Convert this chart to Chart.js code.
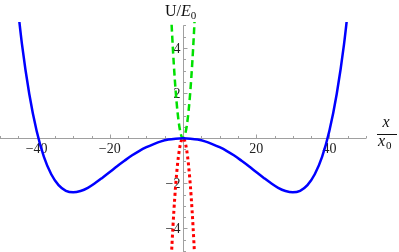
<!DOCTYPE html>
<html>
<head>
<meta charset="utf-8">
<script src="https://cdn.jsdelivr.net/npm/chart.js@4"></script>
<style>
  html, body { margin: 0; padding: 0; background: #fff; }
  #wrap { width: 399px; height: 252px; position: relative; }
</style>
</head>
<body>
<div id="wrap"><canvas id="myChart"></canvas></div>
<script>
// values
const blueX = [-46,-44,-42,-40,-38,-36,-34,-32,-30,-28,-26,-24,-22,-20,-18,-16,-14,-12,-10,-8,-6,-4,-2,0,
               2,4,6,8,10,12,14,16,18,20,22,24,26,28,30,32,34,36,38,40,42,44,46];
const blueU = [7.09,4.17,1.96,0.33,-0.83,-1.60,-2.08,-2.33,-2.40,-2.34,-2.20,-1.99,-1.75,-1.50,-1.24,-1.00,-0.77,-0.57,-0.40,-0.26,-0.14,-0.06,-0.02,0,
               -0.02,-0.06,-0.14,-0.26,-0.40,-0.57,-0.77,-1.00,-1.24,-1.50,-1.75,-1.99,-2.20,-2.34,-2.40,-2.33,-2.08,-1.60,-0.83,0.33,1.96,4.17,7.09];

const greenX = [-3.4,-3,-2.5,-2,-1.5,-1,-0.5,0,0.5,1,1.5,2,2.5,3,3.4];
const greenU = [6.01,4.68,3.25,2.08,1.17,0.52,0.13,0,0.13,0.52,1.17,2.08,3.25,4.68,6.01];

const redX = [-3.4,-3,-2.5,-2,-1.5,-1,-0.5,0,0.5,1,1.5,2,2.5,3,3.4];
const redU = [-6.01,-4.68,-3.25,-2.08,-1.17,-0.52,-0.13,0,-0.13,-0.52,-1.17,-2.08,-3.25,-4.68,-6.01];

const xTickVals = [-40, -20, 20, 40];
const xTickLabels = ["\u221240", "\u221220", "20", "40"];
const yTickVals = [4, 2, -2, -4];
const yTickLabels = ["4", "2", "\u22122", "\u22124"];

function pts(xs, ys) {
  return xs.map(function (x, i) { return { x: x, y: ys[i] }; });
}

// axes through the origin, Mathematica style
const axesPlugin = {
  id: 'axesPlugin',
  beforeDatasetsDraw: function (chart) {
    const ctx = chart.ctx;
    const xs = chart.scales.x;
    const ys = chart.scales.y;
    const x0 = Math.round(xs.getPixelForValue(0)) + 0.5;
    const y0 = Math.round(ys.getPixelForValue(0)) + 0.5;
    ctx.save();
    ctx.strokeStyle = '#a0a0a0';
    ctx.lineWidth = 1;
    ctx.beginPath();
    ctx.moveTo(xs.getPixelForValue(-50), y0);
    ctx.lineTo(xs.getPixelForValue(50), y0);
    ctx.moveTo(x0, ys.getPixelForValue(5));
    ctx.lineTo(x0, ys.getPixelForValue(-5) + 1);
    // x ticks every 5
    for (let v = -50; v <= 50; v += 5) {
      if (v === 0) continue;
      const px = Math.round(xs.getPixelForValue(v)) + 0.5;
      const len = (v % 20 === 0) ? 4 : 2.5;
      ctx.moveTo(px, y0);
      ctx.lineTo(px, y0 - len);
    }
    // y ticks every 0.5
    for (let v = -5; v <= 5.001; v += 0.5) {
      if (Math.abs(v) < 0.01) continue;
      const py = Math.round(ys.getPixelForValue(v)) + 0.5;
      const len = (Math.abs(v % 2) < 0.01) ? 4 : 2.5;
      ctx.moveTo(x0, py);
      ctx.lineTo(x0 + len, py);
    }
    ctx.stroke();

    ctx.fillStyle = '#222';
    ctx.font = '14px "Liberation Serif", "DejaVu Serif", serif';
    ctx.textAlign = 'center';
    ctx.textBaseline = 'top';
    xTickVals.forEach(function (v, i) {
      ctx.fillText(xTickLabels[i], xs.getPixelForValue(v), y0 + 4);
    });
    ctx.textAlign = 'right';
    ctx.textBaseline = 'middle';
    yTickVals.forEach(function (v, i) {
      ctx.fillText(yTickLabels[i], x0 - 3, ys.getPixelForValue(v) + 1);
    });
    ctx.restore();
  },
  afterDraw: function (chart) {
    const ctx = chart.ctx;
    ctx.save();
    ctx.fillStyle = '#111';
    ctx.textAlign = 'left';
    ctx.textBaseline = 'alphabetic';
    // U/E0
    let x = 165;
    ctx.font = '16px "Liberation Serif", serif';
    ctx.fillText('U/', x, 16);
    x += ctx.measureText('U/').width;
    ctx.font = 'italic 16px "Liberation Serif", serif';
    ctx.fillText('E', x, 16);
    x += ctx.measureText('E').width;
    ctx.font = '11px "Liberation Serif", serif';
    ctx.fillText('0', x, 19);
    // x / x0
    ctx.font = 'italic 16px "Liberation Serif", serif';
    ctx.textAlign = 'center';
    ctx.fillText('x', 386, 127);
    ctx.strokeStyle = '#111';
    ctx.lineWidth = 1;
    ctx.beginPath();
    ctx.moveTo(377, 134.5);
    ctx.lineTo(397, 134.5);
    ctx.stroke();
    ctx.textAlign = 'left';
    ctx.fillText('x', 378, 146);
    ctx.font = '11px "Liberation Serif", serif';
    ctx.fillText('0', 386, 149);
    ctx.restore();
  }
};

const data = {
  datasets: [
    {
      label: 'U',
      data: pts(blueX, blueU),
      borderColor: '#0000ff',
      borderWidth: 2.5,
      cubicInterpolationMode: 'monotone'
    },
    {
      label: 'green',
      data: pts(greenX, greenU),
      borderColor: '#00e000',
      borderWidth: 2.5,
      borderDash: [7, 4],
      cubicInterpolationMode: 'monotone'
    },
    {
      label: 'red',
      data: pts(redX, redU),
      borderColor: '#ff0000',
      borderWidth: 3,
      borderDash: [3, 3],
      cubicInterpolationMode: 'monotone'
    }
  ]
};

const config = {
  type: 'scatter',
  data: data,
  options: {
    responsive: true,
    maintainAspectRatio: false,
    animation: false,
    showLine: true,
    elements: { point: { radius: 0 } },
    layout: { padding: { left: 0, right: 33, top: 22, bottom: 1 } },
    plugins: { legend: { display: false }, tooltip: { enabled: false } },
    scales: {
      x: { type: 'linear', min: -50, max: 50, display: false },
      y: { type: 'linear', min: -5, max: 5.15, display: false }
    }
  },
  plugins: [axesPlugin]
};

var myChart = new Chart(document.getElementById('myChart'), config);
</script>
</body>
</html>
